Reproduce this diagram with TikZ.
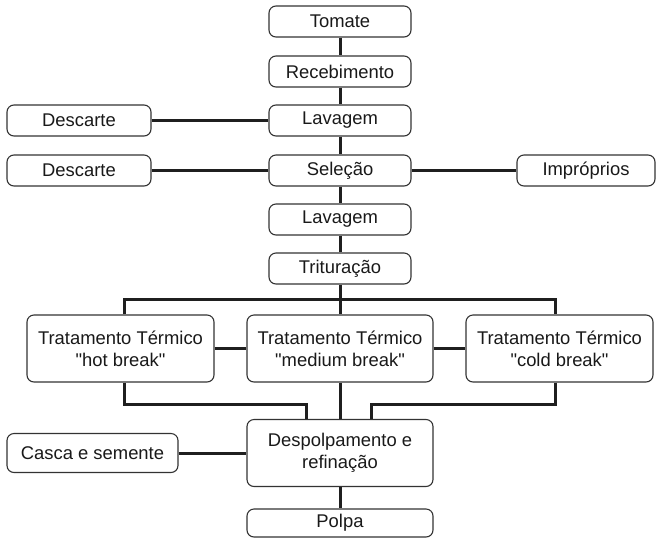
\documentclass[tikz,border=0pt]{standalone}
\usepackage{fontspec}
\setmainfont{Liberation Sans}
\begin{document}
\begin{tikzpicture}[x=1pt,y=-1pt,
  box/.style={draw=black!80, line width=1.1pt, rounded corners=7pt, fill=white,
    inner sep=0pt, align=center, font=\fontsize{18.4}{22}\selectfont, text=black!90},
  link/.style={line width=3pt, draw=black!88}]
\useasboundingbox (0,0) rectangle (656,539);
% main column
\node[box, minimum width=142pt, minimum height=31pt] (tomate) at (340,21.5) {Tomate};
\node[box, minimum width=142pt, minimum height=31pt] (receb) at (340,71.5) {Recebimento};
\node[box, minimum width=142pt, minimum height=31pt] (lav1) at (340,120.5) {Lavagem};
\node[box, minimum width=142pt, minimum height=31pt] (sel) at (340,170.5) {Seleção};
\node[box, minimum width=142pt, minimum height=31pt] (lav2) at (340,219.5) {Lavagem};
\node[box, minimum width=142pt, minimum height=31pt] (trit) at (340,268.5) {Trituração};
% sides
\node[box, minimum width=144pt, minimum height=31pt] (desc1) at (79,120.5) {Descarte};
\node[box, minimum width=144pt, minimum height=31pt] (desc2) at (79,170.5) {Descarte};
\node[box, minimum width=138pt, minimum height=31pt] (impr) at (586,170.5) {Impróprios};
% treatments
\node[box, minimum width=187pt, minimum height=67pt] (hot) at (120.5,348.5) {Tratamento Térmico\\\textquotedbl hot break\textquotedbl};
\node[box, minimum width=186pt, minimum height=67pt] (med) at (340,348.5) {Tratamento Térmico\\\textquotedbl medium break\textquotedbl};
\node[box, minimum width=187pt, minimum height=67pt] (cold) at (559.5,348.5) {Tratamento Térmico\\\textquotedbl cold break\textquotedbl};
% bottom
\node[box, minimum width=186pt, minimum height=67pt] (desp) at (340,453) {Despolpamento e\\refinação};
\node[box, minimum width=171pt, minimum height=39pt] (casca) at (92.5,453) {Casca e semente};
\node[box, minimum width=186pt, minimum height=28pt] (polpa) at (340,523) {Polpa};
% connectors
\draw[link] (tomate) -- (receb);
\draw[link] (receb) -- (lav1);
\draw[link] (lav1) -- (sel);
\draw[link] (sel) -- (lav2);
\draw[link] (lav2) -- (trit);
\draw[link] (trit) -- (med);
\draw[link] (desc1) -- (lav1);
\draw[link] (desc2) -- (sel);
\draw[link] (sel) -- (impr);
\draw[link] ([xshift=3.5pt]hot.north) -- ++(0,-14.5) -| ([xshift=-4.5pt]cold.north);
\draw[link] (hot) -- (med);
\draw[link] (med) -- (cold);
\draw[link] ([xshift=3.5pt]hot.south) -- ++(0,21.5) -| ([xshift=-34pt]desp.north);
\draw[link] ([xshift=-4.5pt]cold.south) -- ++(0,21.5) -| ([xshift=31pt]desp.north);
\draw[link] (med) -- (desp);
\draw[link] (casca) -- (desp);
\draw[link] (desp) -- (polpa);
\end{tikzpicture}
\end{document}
